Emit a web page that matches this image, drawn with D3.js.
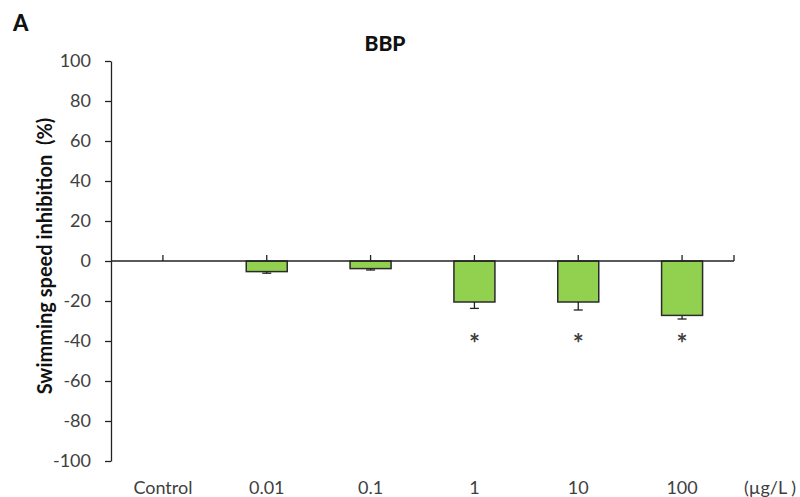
<!DOCTYPE html>
<html>
<head>
<meta charset="utf-8">
<script src="https://cdn.jsdelivr.net/npm/d3@7"></script>
<style>
  html, body { margin: 0; padding: 0; background: #fff; }
  svg { display: block; font-family: Lato, "Open Sans", sans-serif; }
</style>
</head>
<body>
<svg id="chart" width="800" height="497"></svg>
<script>
// Concentrations tested (µg/L) and mean inhibition with standard error
const categories = ["Control", "0.01", "0.1", "1", "10", "100"];
const means = [0, -5.3, -3.8, -20.5, -20.5, -27.2];
const errors = [0, 0.8, 0.7, 3.2, 4.0, 1.8];
const significant = [false, false, false, true, true, true];
const yTicks = [100, 80, 60, 40, 20, 0, -20, -40, -60, -80, -100];

const svg = d3.select("#chart");
const x0 = 111, x1 = 734, yTop = 61, yBottom = 461;

const xc = d3.scalePoint().domain(categories).range([x0, x1]).padding(0.5);
const y = d3.scaleLinear().domain([-100, 100]).range([yBottom, yTop]);

const ink = "#404040";

// y axis
const yAxis = svg.append("g")
  .attr("transform", `translate(${x0},0)`)
  .call(d3.axisLeft(y).tickValues(yTicks).tickFormat(d => String(d))
    .tickSize(6).tickPadding(14).tickSizeOuter(0));
yAxis.select(".domain").attr("stroke", "#222").attr("stroke-width", 1.3);
yAxis.selectAll(".tick line").attr("stroke", "#222").attr("stroke-width", 1.3);
yAxis.selectAll(".tick text").attr("fill", ink).style("font-size", "18px")
  .style("font-family", "Lato, sans-serif");

// bars
svg.append("g").selectAll("rect")
  .data(categories.map((c, i) => ({ c, v: means[i], e: errors[i] })).filter(d => d.v !== 0))
  .join("rect")
  .attr("x", d => xc(d.c) - 20.5)
  .attr("width", 41)
  .attr("y", d => y(Math.max(0, d.v)))
  .attr("height", d => Math.abs(y(d.v) - y(0)))
  .attr("fill", "#92D050")
  .attr("stroke", "#2b2b2b")
  .attr("stroke-width", 1.5);

// error bars
const eb = svg.append("g").attr("stroke", "#222").attr("stroke-width", 1.3);
categories.forEach((c, i) => {
  if (errors[i] === 0) return;
  const cx = xc(c);
  eb.append("line").attr("x1", cx).attr("x2", cx).attr("y1", y(means[i])).attr("y2", y(means[i] - errors[i]));
  eb.append("line").attr("x1", cx - 4.5).attr("x2", cx + 4.5).attr("y1", y(means[i] - errors[i])).attr("y2", y(means[i] - errors[i]));
});

// x axis along zero with upward category ticks
const xg = svg.append("g").attr("stroke", "#222").attr("stroke-width", 1.3);
xg.append("line").attr("x1", x0).attr("x2", x1).attr("y1", y(0)).attr("y2", y(0));
categories.forEach(c => {
  xg.append("line").attr("x1", xc(c)).attr("x2", xc(c)).attr("y1", y(0)).attr("y2", y(0) - 6);
});
xg.append("line").attr("x1", x1).attr("x2", x1).attr("y1", y(0)).attr("y2", y(0) - 6);

// significance markers
svg.append("g").selectAll("text")
  .data(categories.filter((c, i) => significant[i]))
  .join("text")
  .attr("x", d => xc(d))
  .attr("y", 353)
  .attr("text-anchor", "middle")
  .attr("fill", ink)
  .style("font-size", "26px")
  .style("font-weight", "bold")
  .text("*");

// category labels below the plot
svg.append("g").selectAll("text")
  .data(categories)
  .join("text")
  .attr("x", d => xc(d))
  .attr("y", 494)
  .attr("text-anchor", "middle")
  .attr("fill", ink)
  .style("font-size", "18px")
  .text(d => d);

svg.append("text").attr("x", 770).attr("y", 494).attr("text-anchor", "middle")
  .attr("fill", ink).style("font-size", "18px").text("(µg/L )");

// titles
svg.append("text").attr("x", 385).attr("y", 51).attr("text-anchor", "middle")
  .attr("fill", "#111").style("font-size", "21px").style("font-weight", "900").text("BBP");

svg.append("text").attr("x", 13).attr("y", 31)
  .attr("fill", "#111").style("font-size", "22px").style("font-weight", "900").text("A");

svg.append("text")
  .attr("transform", `translate(52,256) rotate(-90)`)
  .attr("text-anchor", "middle")
  .attr("fill", "#111")
  .style("font-size", "20px").style("font-weight", "bold")
  .style("white-space", "pre")
  .text("Swimming speed inhibition  (%)");
</script>
</body>
</html>
